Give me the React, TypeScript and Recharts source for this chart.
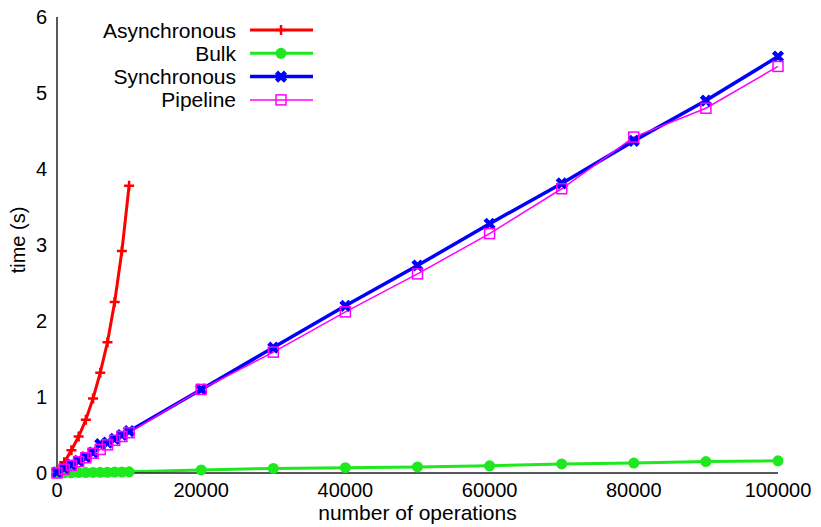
import React from 'react';
import { LineChart, Line, XAxis, YAxis, Legend } from 'recharts';

// number of operations
const opsSmall = [0, 1000, 2000, 3000, 4000, 5000, 6000, 7000, 8000, 9000, 10000];
const opsLarge = [20000, 30000, 40000, 50000, 60000, 70000, 80000, 90000, 100000];

// time (s)
const asyncTimes = [0.02, 0.14, 0.3, 0.48, 0.7, 0.98, 1.32, 1.72, 2.25, 2.92, 3.78];
const bulkTimes = [0, 0.002, 0.003, 0.005, 0.006, 0.008, 0.009, 0.01, 0.012, 0.013, 0.015,
    0.04, 0.06, 0.07, 0.08, 0.095, 0.12, 0.13, 0.15, 0.16];
const syncTimes = [0.01, 0.06, 0.11, 0.16, 0.21, 0.27, 0.38, 0.4, 0.45, 0.5, 0.55,
    1.1, 1.65, 2.2, 2.73, 3.28, 3.81, 4.37, 4.9, 5.48];
const pipelineTimes = [0, 0.05, 0.1, 0.15, 0.2, 0.26, 0.31, 0.37, 0.43, 0.48, 0.53,
    1.1, 1.59, 2.12, 2.62, 3.15, 3.74, 4.42, 4.8, 5.35];

const xTicks = [0, 20000, 40000, 60000, 80000, 100000];
const yTicks = [0, 1, 2, 3, 4, 5, 6];

const allOps = [...opsSmall, ...opsLarge];
const toPoints = (ops: number[], times: number[]) => ops.map((o, i) => ({ ops: o, t: times[i] }));

const SERIES = [
    { name: 'Asynchronous', color: '#ff0000', width: 3, marker: 'plus', data: toPoints(opsSmall, asyncTimes) },
    { name: 'Bulk', color: '#1ee81e', width: 3, marker: 'circle', data: toPoints(allOps, bulkTimes) },
    { name: 'Synchronous', color: '#0000ff', width: 3.5, marker: 'cross', data: toPoints(allOps, syncTimes) },
    { name: 'Pipeline', color: '#ff00ff', width: 1.5, marker: 'square', data: toPoints(allOps, pipelineTimes) },
];

const FONT = '"Liberation Sans", Arial, Helvetica, sans-serif';

function Marker({ kind, color, cx, cy }: { kind: string; color: string; cx: number; cy: number }) {
    if (kind === 'plus') {
        return <path d={`M${cx - 5},${cy}H${cx + 5}M${cx},${cy - 5}V${cy + 5}`} stroke={color} strokeWidth={2.5} fill="none" />;
    }
    if (kind === 'circle') {
        return <circle cx={cx} cy={cy} r={5.5} fill={color} />;
    }
    if (kind === 'cross') {
        return <path d={`M${cx - 4.5},${cy - 4.5}L${cx + 4.5},${cy + 4.5}M${cx - 4.5},${cy + 4.5}L${cx + 4.5},${cy - 4.5}`} stroke={color} strokeWidth={4.5} fill="none" />;
    }
    return <rect x={cx - 5} y={cy - 5} width={10} height={10} stroke={color} strokeWidth={1.5} fill="none" />;
}

const makeDot = (kind: string, color: string) => (props: any) => {
    const { cx, cy, index } = props;
    if (cx == null || cy == null) return <g key={`${kind}-${index}`} />;
    return (
        <g key={`${kind}-${index}`}>
            <Marker kind={kind} color={color} cx={cx} cy={cy} />
        </g>
    );
};

function KeyBox() {
    return (
        <svg width={260} height={96} style={{ display: 'block' }}>
            {SERIES.map((s, i) => {
                const y = 12 + i * 23.3;
                return (
                    <g key={s.name}>
                        <text x={176} y={y} textAnchor="end" dominantBaseline="central" fontSize={21} fill="#000" fontFamily={FONT}>
                            {s.name}
                        </text>
                        <line x1={190} x2={253} y1={y} y2={y} stroke={s.color} strokeWidth={s.width} />
                        <Marker kind={s.marker} color={s.color} cx={221} cy={y} />
                    </g>
                );
            })}
        </svg>
    );
}

const tickStyle = { fontSize: 20, fill: '#000', fontFamily: FONT };
const frame = { stroke: '#222', strokeWidth: 1.5 };
const noLabel = () => <g />;

export default function App() {
    return (
        <div style={{ position: 'absolute', left: 0, top: 0, width: 821, height: 527, background: '#fff', fontFamily: FONT }}>
            <LineChart width={821} height={527} margin={{ top: 17, right: 43, bottom: 24, left: 0 }}>
                <XAxis
                    dataKey="ops"
                    type="number"
                    domain={[0, 100000]}
                    ticks={xTicks}
                    height={30}
                    tickLine={false}
                    tickMargin={4}
                    axisLine={frame}
                    tick={tickStyle}
                    allowDuplicatedCategory={false}
                    label={({ viewBox }: any) => (
                        <text
                            x={viewBox.x + viewBox.width / 2}
                            y={viewBox.y + 47}
                            textAnchor="middle"
                            fontSize={21}
                            fill="#000"
                            fontFamily={FONT}
                        >
                            number of operations
                        </text>
                    )}
                />
                <XAxis xAxisId="top" orientation="top" type="number" domain={[0, 100000]} ticks={xTicks} height={0} mirror tickSize={4} tick={noLabel} tickLine={{ stroke: '#222' }} axisLine={frame} />
                <XAxis xAxisId="bottomTicks" orientation="bottom" type="number" domain={[0, 100000]} ticks={xTicks} height={0} mirror tickSize={4} tick={noLabel} tickLine={{ stroke: '#222' }} axisLine={false} />
                <YAxis
                    type="number"
                    domain={[0, 6]}
                    ticks={yTicks}
                    width={57}
                    tickLine={false}
                    tickMargin={4}
                    axisLine={frame}
                    tick={tickStyle}
                    label={({ viewBox }: any) => (
                        <text
                            transform={`rotate(-90, ${viewBox.x + 18}, ${viewBox.y + viewBox.height / 2 - 5})`}
                            x={viewBox.x + 18}
                            y={viewBox.y + viewBox.height / 2 - 5}
                            textAnchor="middle"
                            dominantBaseline="central"
                            fontSize={20}
                            fill="#000"
                            fontFamily={FONT}
                        >
                            time (s)
                        </text>
                    )}
                />
                <YAxis yAxisId="leftTicks" orientation="left" type="number" domain={[0, 6]} ticks={yTicks} width={0} mirror tickSize={4} tick={noLabel} tickLine={{ stroke: '#222' }} axisLine={false} />
                <YAxis yAxisId="right" orientation="right" type="number" domain={[0, 6]} ticks={yTicks} width={0} mirror tickSize={4} tick={noLabel} tickLine={{ stroke: '#222' }} axisLine={frame} />
                <Legend
                    layout="vertical"
                    align="center"
                    verticalAlign="middle"
                    content={() => <KeyBox />}
                    wrapperStyle={{ top: 18, left: 60, width: 260, height: 96 }}
                />
                {SERIES.map((s) => (
                    <Line
                        key={s.name}
                        data={s.data}
                        dataKey="t"
                        name={s.name}
                        type="linear"
                        stroke={s.color}
                        strokeWidth={s.width}
                        dot={makeDot(s.marker, s.color)}
                        activeDot={false}
                        isAnimationActive={false}
                    />
                ))}
            </LineChart>
        </div>
    );
}
